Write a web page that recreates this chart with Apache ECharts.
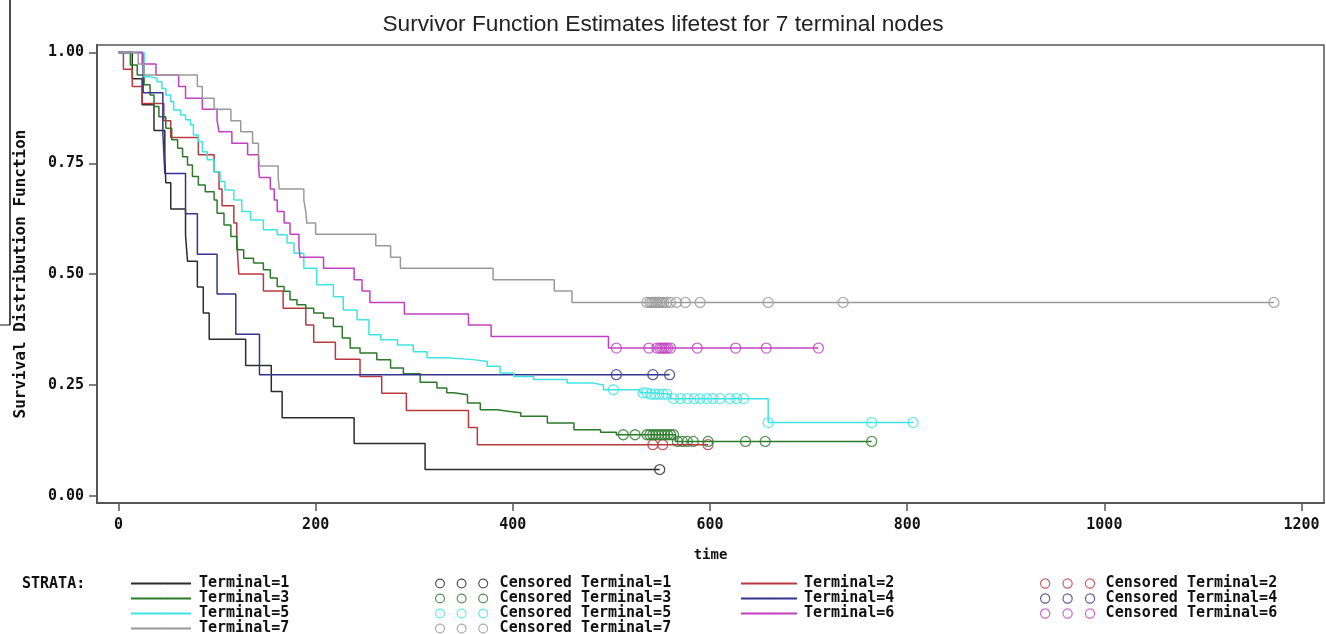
<!DOCTYPE html>
<html>
<head>
<meta charset="utf-8">
<style>
  html, body { margin: 0; padding: 0; background: #fff; }
  #chart { width: 1326px; height: 634px; }
</style>
<script src="https://cdn.jsdelivr.net/npm/echarts@6.0.0/dist/echarts.min.js"></script>
</head>
<body>
<div id="chart"></div>
<script>
// Kaplan-Meier steps: time of each drop and survival after it
const t1Time = [0, 14, 24, 36, 47, 48, 53, 68, 70, 80, 86, 92, 129, 155, 166, 239, 311, 549]
const t1Surv = [1, 0.941, 0.882, 0.824, 0.765, 0.706, 0.647, 0.588, 0.529, 0.471, 0.412, 0.353, 0.294, 0.235, 0.176, 0.118, 0.059, 0.059]
const t1Cens = [549]

const t2Time = [0, 5, 14, 24, 46, 53, 81, 97, 102, 105, 117, 120, 121, 122, 147, 167, 190, 198, 220, 245, 267, 292, 355, 364, 598]
const t2Surv = [1, 0.962, 0.923, 0.885, 0.846, 0.808, 0.769, 0.731, 0.692, 0.654, 0.615, 0.577, 0.538, 0.5, 0.462, 0.423, 0.385, 0.346, 0.308, 0.269, 0.231, 0.192, 0.154, 0.115, 0.115]
const t2Cens = [542, 552, 598]

const t3Time = [0, 12, 19, 26, 32, 36, 41, 48, 54, 60, 65, 70, 75, 81, 88, 97, 100, 107, 114, 120, 127, 137, 147, 154, 161, 168, 174, 181, 190, 198, 208, 218, 227, 235, 245, 262, 276, 289, 306, 323, 333, 340, 354, 367, 384, 397, 408, 435, 462, 489, 505, 565, 764]
const t3Surv = [1, 0.972, 0.949, 0.927, 0.904, 0.878, 0.855, 0.829, 0.803, 0.784, 0.765, 0.746, 0.72, 0.701, 0.686, 0.667, 0.637, 0.611, 0.585, 0.555, 0.536, 0.525, 0.51, 0.491, 0.472, 0.461, 0.442, 0.431, 0.423, 0.412, 0.401, 0.382, 0.356, 0.333, 0.322, 0.307, 0.288, 0.275, 0.256, 0.243, 0.232, 0.228, 0.209, 0.194, 0.19, 0.187, 0.179, 0.164, 0.149, 0.143, 0.1375, 0.1225, 0.1225]
const t3Cens = [512, 524, 536, 539, 542, 545, 548, 551, 554, 557, 560, 563, 567, 572, 577, 583, 598, 636, 656, 764]

const t4Time = [0, 25, 45, 47, 68, 80, 100, 119, 143, 559]
const t4Surv = [1, 0.909, 0.818, 0.727, 0.636, 0.545, 0.455, 0.364, 0.273, 0.273]
const t4Cens = [505, 542, 559]

const t5Time = [0, 26, 32, 39, 44, 48, 53, 56, 63, 68, 73, 76, 81, 85, 90, 97, 103, 108, 117, 125, 134, 147, 161, 171, 178, 188, 201, 218, 228, 242, 254, 266, 283, 299, 313, 333, 360, 374, 387, 401, 421, 455, 482, 492, 529, 539, 560, 659, 806]
const t5Surv = [1, 0.945, 0.942, 0.934, 0.919, 0.904, 0.889, 0.87, 0.859, 0.848, 0.837, 0.814, 0.799, 0.776, 0.758, 0.731, 0.709, 0.69, 0.667, 0.641, 0.622, 0.6, 0.589, 0.57, 0.547, 0.513, 0.476, 0.449, 0.419, 0.397, 0.363, 0.352, 0.34, 0.325, 0.311, 0.307, 0.303, 0.292, 0.277, 0.269, 0.262, 0.254, 0.25, 0.239, 0.232, 0.229, 0.219, 0.165, 0.165]
const t5Cens = [502, 532, 536, 540, 544, 548, 552, 556, 563, 570, 577, 584, 590, 597, 603, 610, 620, 627, 634, 659, 764, 806]

const t6Time = [0, 24, 38, 61, 68, 85, 100, 102, 115, 131, 142, 143, 154, 158, 161, 168, 174, 183, 184, 208, 239, 247, 255, 290, 355, 378, 497, 710]
const t6Surv = [1, 0.974, 0.949, 0.923, 0.897, 0.872, 0.846, 0.821, 0.795, 0.769, 0.744, 0.718, 0.692, 0.667, 0.641, 0.615, 0.59, 0.564, 0.538, 0.513, 0.487, 0.462, 0.436, 0.41, 0.385, 0.359, 0.333, 0.333]
const t6Cens = [505, 538, 546, 549, 551, 553, 555, 557, 560, 587, 626, 657, 710]

const t7Time = [0, 20, 26, 80, 85, 97, 114, 124, 136, 142, 143, 162, 163, 188, 190, 191, 200, 261, 276, 286, 380, 442, 460, 1172]
const t7Surv = [1, 0.974, 0.949, 0.923, 0.897, 0.872, 0.846, 0.821, 0.795, 0.769, 0.744, 0.718, 0.692, 0.667, 0.641, 0.615, 0.59, 0.564, 0.538, 0.513, 0.487, 0.462, 0.436, 0.436]
const t7Cens = [536, 539, 541, 543, 545, 547, 549, 551, 553, 556, 560, 566, 575, 590, 659, 735, 1172]

const xTicks = [0, 200, 400, 600, 800, 1000, 1200]
const yTicks = [0, 0.25, 0.5, 0.75, 1]

const strata = [
  { name: 'Terminal=1', time: t1Time, surv: t1Surv, cens: t1Cens, color: '#2b2b2b' },
  { name: 'Terminal=2', time: t2Time, surv: t2Surv, cens: t2Cens, color: '#b8393f' },
  { name: 'Terminal=3', time: t3Time, surv: t3Surv, cens: t3Cens, color: '#2a7a2a' },
  { name: 'Terminal=4', time: t4Time, surv: t4Surv, cens: t4Cens, color: '#34348e' },
  { name: 'Terminal=5', time: t5Time, surv: t5Surv, cens: t5Cens, color: '#3fe3e3' },
  { name: 'Terminal=6', time: t6Time, surv: t6Surv, cens: t6Cens, color: '#c040c0' },
  { name: 'Terminal=7', time: t7Time, surv: t7Surv, cens: t7Cens, color: '#9a9a9a' }
]

// step lookup: survival in effect at time t
function survAt (times, surv, t) {
  let v = surv[0]
  for (let i = 0; i < times.length; i++) {
    if (times[i] <= t) v = surv[i]
  }
  return v
}

const mono = 'DejaVu Sans Mono'
const threeRings = 'path://M1,5.5a4.5,4.5 0 1,0 9,0a4.5,4.5 0 1,0 -9,0M23,5.5a4.5,4.5 0 1,0 9,0a4.5,4.5 0 1,0 -9,0M45,5.5a4.5,4.5 0 1,0 9,0a4.5,4.5 0 1,0 -9,0'

const series = []
strata.forEach(s => {
  series.push({
    name: s.name,
    type: 'line',
    step: 'end',
    symbol: 'none',
    lineStyle: { width: 1.5, color: s.color },
    itemStyle: { color: s.color },
    data: s.time.map((t, i) => [t, s.surv[i]])
  })
})
strata.forEach(s => {
  series.push({
    name: 'Censored ' + s.name,
    type: 'scatter',
    symbol: 'circle',
    symbolSize: 10,
    itemStyle: { color: 'transparent', borderColor: s.color, borderWidth: 1.3 },
    data: s.cens.map(t => [t, survAt(s.time, s.surv, t)])
  })
})

const legendText = { fontFamily: mono, fontWeight: 'bold', fontSize: 15, color: '#111', lineHeight: 15 }

// line legends: the symbol drawn on a line legend scales with itemHeight, so keep it tiny
function lineLegend (left, width, pad, names) {
  return {
    left: left,
    top: 576,
    height: 80,
    padding: 0,
    orient: 'vertical',
    itemWidth: width,
    itemHeight: 2,
    itemGap: 0,
    selectedMode: false,
    textStyle: Object.assign({ padding: [0, 0, 0, pad] }, legendText),
    data: names
  }
}

function censLegend (left, width, pad, names) {
  return {
    left: left,
    top: 576,
    height: 80,
    padding: 0,
    orient: 'vertical',
    itemWidth: width,
    itemHeight: 10,
    itemGap: 0,
    selectedMode: false,
    textStyle: Object.assign({ padding: [0, 0, 0, pad] }, legendText),
    data: names.map(n => {
      const s = strata.find(x => 'Censored ' + x.name === n)
      return {
        name: n,
        icon: threeRings,
        itemStyle: { color: 'transparent', borderColor: s.color, borderWidth: 1.2 }
      }
    })
  }
}

const chart = echarts.init(document.getElementById('chart'))
chart.setOption({
  animation: false,
  backgroundColor: '#fff',
  title: {
    text: 'Survivor Function Estimates lifetest for 7 terminal nodes',
    left: 'center',
    top: 8,
    textStyle: { fontFamily: 'Liberation Sans', fontWeight: 'normal', fontSize: 22.7, color: '#222' }
  },
  grid: {
    left: 97,
    top: 45,
    right: 2,
    bottom: 131,
    show: true,
    borderColor: '#555',
    borderWidth: 1.5
  },
  xAxis: {
    type: 'value',
    min: -21.8,
    max: 1222.8,
    name: 'time',
    nameLocation: 'middle',
    nameGap: 45,
    nameTextStyle: { fontFamily: mono, fontWeight: 'bold', fontSize: 14, color: '#111' },
    splitLine: { show: false },
    axisLine: { onZero: false, lineStyle: { color: '#555', width: 2 } },
    axisTick: { length: 8, lineStyle: { color: '#555', width: 1.5 }, customValues: xTicks },
    axisLabel: {
      customValues: xTicks,
      margin: 15,
      fontFamily: mono,
      fontWeight: 'bold',
      fontSize: 15,
      color: '#111',
      formatter: v => String(v)
    }
  },
  yAxis: {
    type: 'value',
    min: -0.0165,
    max: 1.0169,
    name: 'Survival Distribution Function',
    nameLocation: 'middle',
    nameRotate: 90,
    nameGap: 68,
    nameTextStyle: { fontFamily: mono, fontWeight: 'bold', fontSize: 16, color: '#111' },
    splitLine: { show: false },
    axisLine: { show: true, onZero: false, lineStyle: { color: '#555', width: 2 } },
    axisTick: { show: true, length: 8, lineStyle: { color: '#555', width: 1.5 }, customValues: yTicks },
    axisLabel: {
      customValues: yTicks,
      margin: 13,
      fontFamily: mono,
      fontWeight: 'bold',
      fontSize: 15,
      color: '#111',
      formatter: v => v.toFixed(2)
    }
  },
  legend: [
    lineLegend(130, 60, 3, ['Terminal=1', 'Terminal=3', 'Terminal=5', 'Terminal=7']),
    censLegend(435, 52, 7, ['Censored Terminal=1', 'Censored Terminal=3', 'Censored Terminal=5', 'Censored Terminal=7']),
    lineLegend(740, 56, 2, ['Terminal=2', 'Terminal=4', 'Terminal=6']),
    censLegend(1040, 54, 6, ['Censored Terminal=2', 'Censored Terminal=4', 'Censored Terminal=6'])
  ],
  graphic: [
    {
      type: 'text',
      left: 22,
      top: 577,
      style: { text: 'STRATA:', font: 'bold 15px "DejaVu Sans Mono"', fill: '#111' }
    },
    {
      type: 'line',
      shape: { x1: 10, y1: 0, x2: 10, y2: 325 },
      style: { stroke: '#111', lineWidth: 1.5 }
    },
    {
      type: 'line',
      shape: { x1: 0, y1: 325, x2: 10, y2: 325 },
      style: { stroke: '#111', lineWidth: 1 }
    }
  ],
  series: series
})
</script>
</body>
</html>
